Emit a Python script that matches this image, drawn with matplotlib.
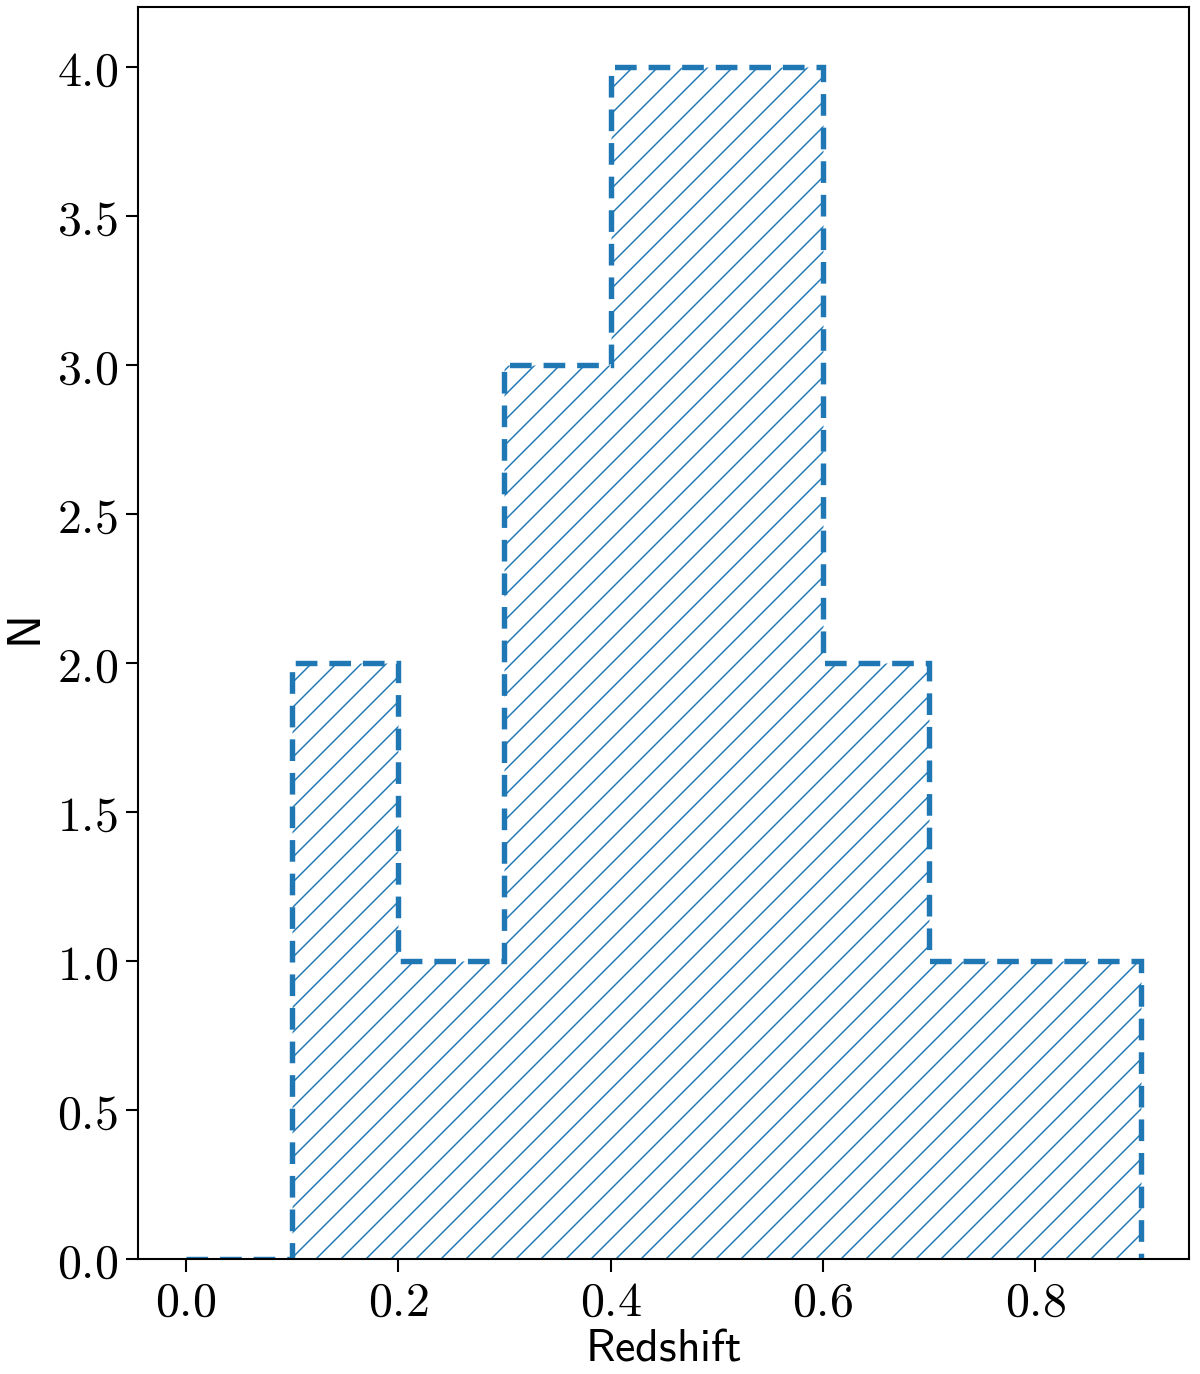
import numpy as np
import matplotlib
matplotlib.use('Agg')
from matplotlib import pyplot as plt
from matplotlib.ticker import FuncFormatter

# redshift histogram: bin edges and counts per bin
bin_edges = [0.0, 0.1, 0.2, 0.3, 0.4, 0.5, 0.6, 0.7, 0.8, 0.9]
counts = [0, 2, 1, 3, 4, 4, 2, 1, 1]

plt.rcParams['mathtext.fontset'] = 'cm'
plt.rcParams['hatch.linewidth'] = 0.7

fig = plt.figure(figsize=(8, 9.16), dpi=150)
ax = fig.add_axes([0.115, 0.0837, 0.876, 0.911])

centers = 0.5 * (np.array(bin_edges[:-1]) + np.array(bin_edges[1:]))
ax.hist(centers, bins=bin_edges, weights=counts, histtype='step',
        hatch='//', linestyle=(0, (4, 2.2)), linewidth=2.6, color='tab:blue')

fmt = FuncFormatter(lambda v, pos: r'$%.1f$' % v)
ax.xaxis.set_major_formatter(fmt)
ax.yaxis.set_major_formatter(fmt)
ax.tick_params(labelsize=23, length=6, width=1.0)
for s in ax.spines.values():
    s.set_linewidth(1.0)

ax.set_xlabel(r'$\mathsf{Redshift}$', fontsize=22, labelpad=0)
ax.set_ylabel(r'$\mathsf{N}$', fontsize=23, labelpad=3)

plt.savefig('out.png', dpi=150)
plt.close(fig)
